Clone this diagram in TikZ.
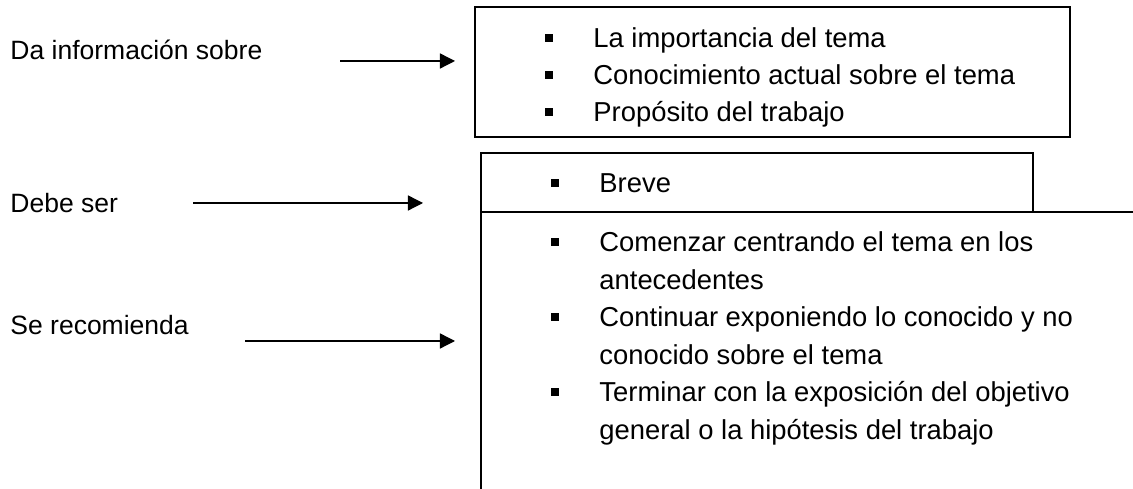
\documentclass[tikz,border=0pt]{standalone}
\usepackage{fontspec}
\setmainfont{Liberation Sans}
\usetikzlibrary{arrows.meta}

\tikzset{etiqueta/.style={anchor=base west, inner sep=0pt, font=\fontsize{12}{14}\selectfont},
    item/.style={anchor=base west, inner sep=0pt, font=\fontsize{12.4}{17}\selectfont},
    caja/.style={draw, line width=0.9pt},
    vineta/.style={fill, inner sep=0pt, minimum size=3.2pt},
    flecha/.style={line width=0.6pt, -{Triangle[length=6.8pt, width=6.8pt]}}}

\begin{document}
\begin{tikzpicture}[x=0.4528pt, y=-0.4528pt]
  \clip (0,0) rectangle (1133,489);
  % cajas
  \draw[caja] (475,7) rectangle (1070,137);
  \draw[caja] (481,153) rectangle (1033,212);
  \draw[caja, fill=white] (481,212) rectangle (1150,510);
  % textos de la izquierda
  \node[etiqueta] (info) at (10,60) {Da información sobre};
  \node[etiqueta] (debe) at (10,213) {Debe ser};
  \node[etiqueta] (reco) at (10,335) {Se recomienda};
  % flechas
  \coordinate (f1a) at (340,61);  \coordinate (f1b) at (455,61);
  \coordinate (f2a) at (193,203); \coordinate (f2b) at (423,203);
  \coordinate (f3a) at (245,341); \coordinate (f3b) at (455,341);
  \draw[flecha] (f1a) -- (f1b);
  \draw[flecha] (f2a) -- (f2b);
  \draw[flecha] (f3a) -- (f3b);
  % vinetas
  \foreach \y in {38,75,112}
    \node[vineta] at (549,\y) {};
  \foreach \y in {183,242,317,392}
    \node[vineta] at (555,\y) {};
  % contenido de las cajas
  \node[item] (imp) at (593,48) {La importancia del tema};
  \node[item] (con) at (593,85) {Conocimiento actual sobre el tema};
  \node[item] (pro) at (593,122) {Propósito del trabajo};
  \node[item] (bre) at (599,193) {Breve};
  \node[item] (com) at (599,252) {Comenzar centrando el tema en los};
  \node[item] (com2) at (599,289.5) {antecedentes};
  \node[item] (cont) at (599,327) {Continuar exponiendo lo conocido y no};
  \node[item] (cont2) at (599,364.5) {conocido sobre el tema};
  \node[item] (ter) at (599,402) {Terminar con la exposición del objetivo};
  \node[item] (ter2) at (599,439.5) {general o la hipótesis del trabajo};
\end{tikzpicture}
\end{document}
